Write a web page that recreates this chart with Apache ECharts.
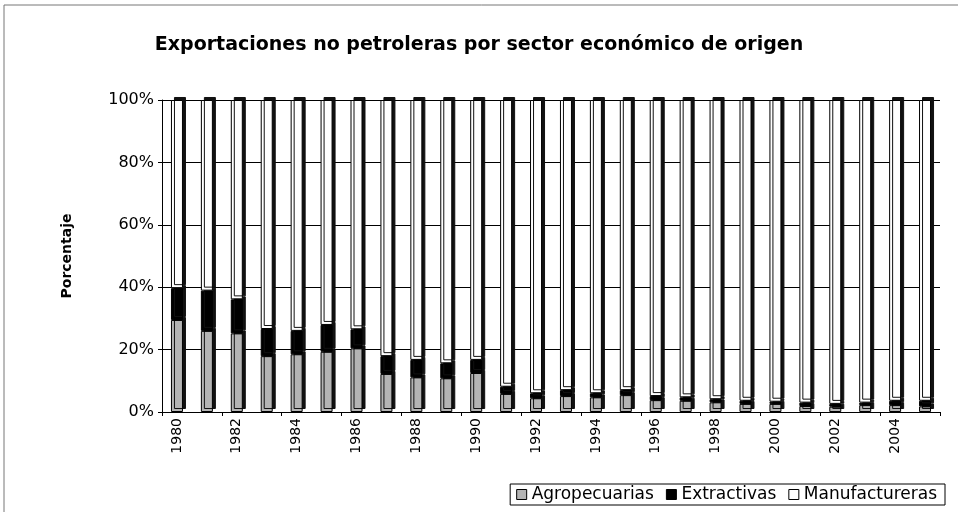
<!DOCTYPE html>
<html>
<head>
<meta charset="utf-8">
<script src="https://cdn.jsdelivr.net/npm/echarts@6/dist/echarts.min.js"></script>
<style>
  html, body { margin: 0; padding: 0; background: #fff; }
  #chart { width: 958px; height: 512px; }
</style>
</head>
<body>
<div id="chart"></div>
<script>
// años
const years = ['1980', '1981', '1982', '1983', '1984', '1985', '1986', '1987', '1988', '1989',
  '1990', '1991', '1992', '1993', '1994', '1995', '1996', '1997', '1998', '1999',
  '2000', '2001', '2002', '2003', '2004', '2005'];

// porcentajes por sector
const agropecuarias = [29.5, 26.0, 25.2, 17.9, 18.5, 19.3, 20.4, 12.2, 11.1, 10.8,
  12.5, 5.8, 4.4, 5.1, 4.7, 5.4, 3.8, 3.6, 3.1, 2.6,
  2.6, 1.9, 1.7, 2.2, 2.2, 1.8];
const extractivas = [10.2, 12.9, 10.9, 8.7, 7.5, 8.6, 6.1, 5.7, 5.6, 4.8,
  4.2, 2.3, 1.6, 1.9, 1.3, 1.6, 1.3, 1.1, 1.0, 1.0,
  0.7, 1.1, 0.9, 0.8, 1.4, 1.8];
const manufactureras = agropecuarias.map((v, i) => +(100 - v - extractivas[i]).toFixed(1));

const chart = echarts.init(document.getElementById('chart'));

// el escaneo original tiene letras anchas
const font = '"DejaVu Sans", Verdana, sans-serif';

function barSeries(name, data, color) {
  return {
    name: name,
    type: 'bar',
    stack: 'total',
    data: data,
    barWidth: 12,
    itemStyle: {
      color: color,
      borderColor: '#000',
      borderWidth: 1,
      shadowColor: '#111',
      shadowOffsetX: 3,
      shadowOffsetY: -3,
      shadowBlur: 0
    },
    emphasis: { disabled: true }
  };
}

chart.setOption({
  animation: false,
  textStyle: { fontFamily: font, color: '#000' },
  title: {
    text: 'Exportaciones no petroleras por sector económico de origen',
    left: 'center',
    top: 31,
    textStyle: { fontSize: 19, fontWeight: 'bold', color: '#000', fontFamily: font }
  },
  legend: {
    right: 13,
    top: 484,
    icon: 'rect',
    itemWidth: 10,
    itemHeight: 10,
    itemGap: 12,
    padding: [2, 8, 2, 6],
    borderColor: '#000',
    borderWidth: 1,
    itemStyle: { shadowColor: 'transparent', shadowOffsetX: 0, shadowOffsetY: 0, borderColor: '#000', borderWidth: 1 },
    textStyle: { fontSize: 17, color: '#000', fontFamily: font },
    data: ['Agropecuarias', 'Extractivas', 'Manufactureras']
  },
  grid: {
    left: 162,
    right: 18,
    top: 100,
    bottom: 100
  },
  xAxis: {
    type: 'category',
    data: years,
    axisLine: { lineStyle: { color: '#000', width: 1 } },
    axisTick: { show: true, interval: 1, length: 4, lineStyle: { color: '#000' } },
    axisLabel: {
      interval: 1,
      rotate: 90,
      fontSize: 14,
      color: '#000',
      margin: 6
    }
  },
  yAxis: {
    type: 'value',
    min: 0,
    max: 100,
    interval: 20,
    name: 'Porcentaje',
    nameLocation: 'middle',
    nameGap: 88,
    nameTextStyle: { fontSize: 14, fontWeight: 'bold', color: '#000' },
    axisLine: { show: true, lineStyle: { color: '#000' } },
    axisTick: { show: true, length: 4, lineStyle: { color: '#000' } },
    axisLabel: { formatter: '{value}%', fontSize: 16, color: '#000', margin: 8 },
    splitLine: { show: true, lineStyle: { color: '#000', width: 1 } }
  },
  graphic: [{
    type: 'rect',
    shape: { x: 4, y: 5, width: 980, height: 540 },
    style: { fill: 'none', stroke: '#777', lineWidth: 1 },
    silent: true
  }],
  series: [
    barSeries('Agropecuarias', agropecuarias, '#b4b4b4'),
    barSeries('Extractivas', extractivas, '#000'),
    barSeries('Manufactureras', manufactureras, '#fff')
  ]
});
</script>
</body>
</html>
